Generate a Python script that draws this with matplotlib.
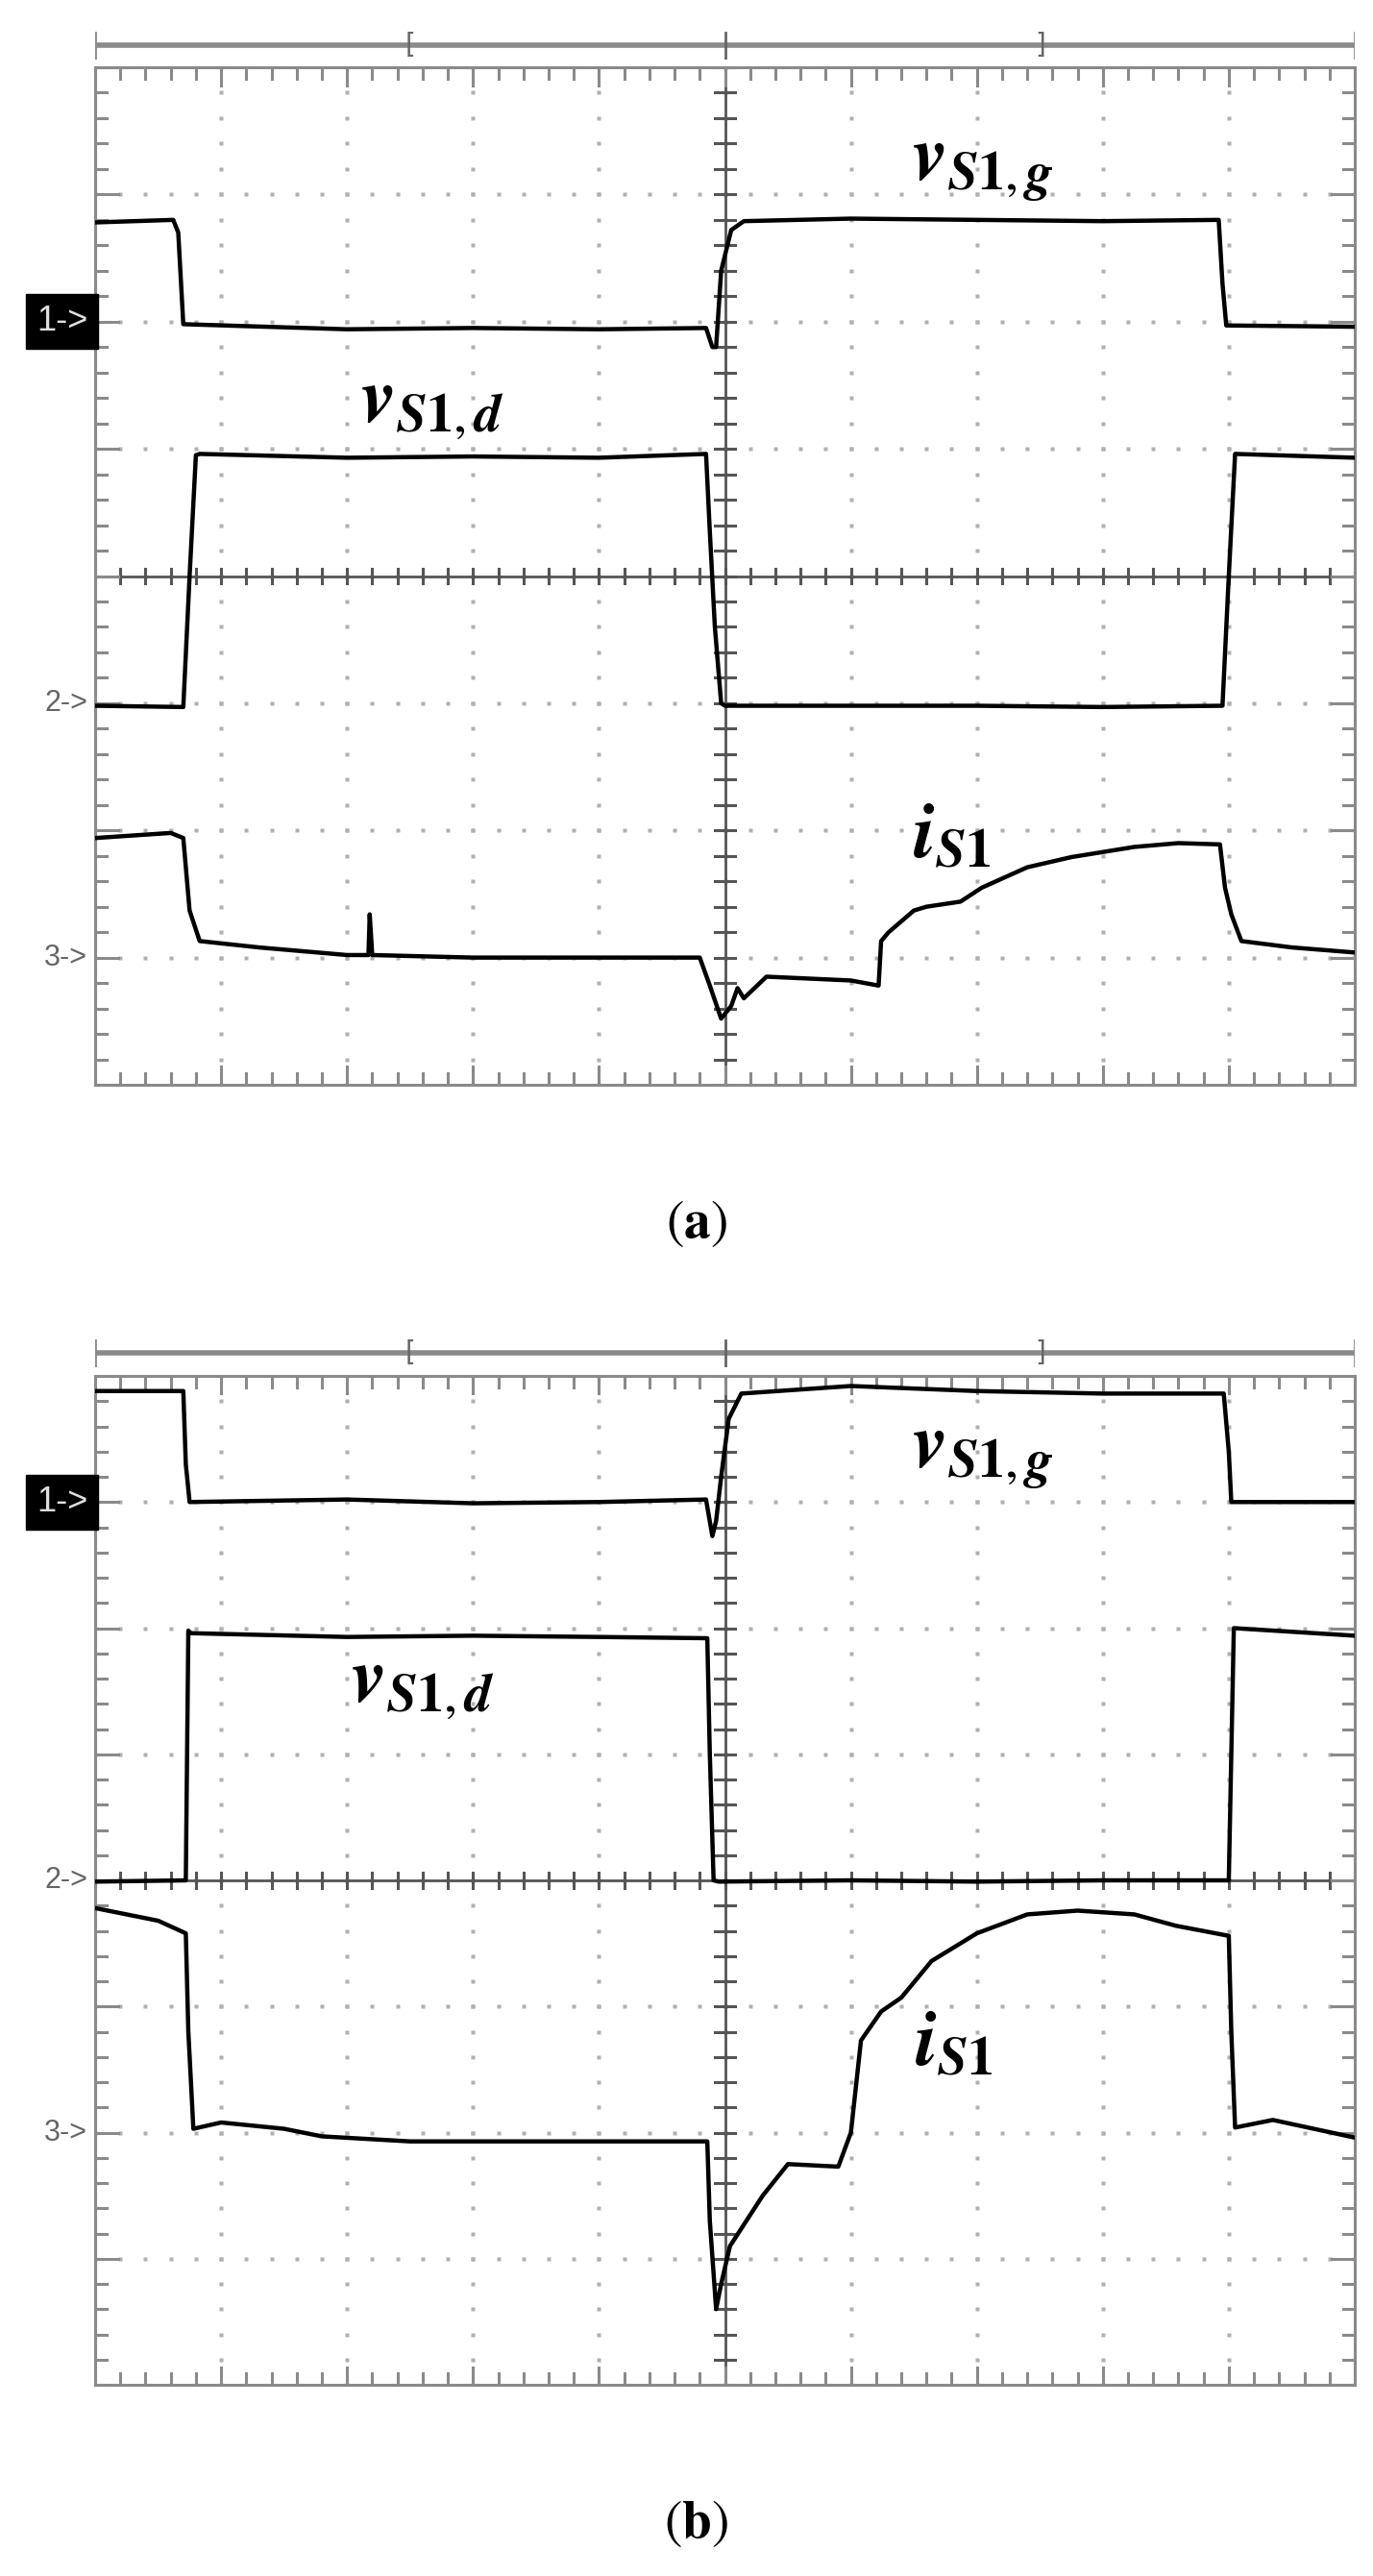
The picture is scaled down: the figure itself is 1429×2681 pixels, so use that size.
import numpy as np
import matplotlib
matplotlib.use("Agg")
import matplotlib.pyplot as plt

plt.rcParams["mathtext.fontset"] = "stix"

# -----------------------------
# traces, in scope divisions (x: 0..10, y: 0..8)
# -----------------------------
# panel (a)
a_gate_x = [0, 0.62, 0.66, 0.70, 2.0, 3.0, 4.0, 4.85, 4.90, 4.93, 4.97, 5.05, 5.15, 6.0, 7.0, 8.0, 8.92, 8.95, 8.98, 10]
a_gate_y = [6.78, 6.80, 6.70, 5.98, 5.94, 5.95, 5.94, 5.95, 5.80, 5.80, 6.40, 6.72, 6.79, 6.81, 6.80, 6.79, 6.80, 6.30, 5.97, 5.96]
a_drain_x = [0, 0.70, 0.75, 0.80, 0.83, 2.0, 3.0, 4.0, 4.85, 4.88, 4.92, 4.97, 5.0, 6.0, 7.0, 8.0, 8.95, 9.0, 9.05, 10]
a_drain_y = [2.98, 2.97, 4.0, 4.95, 4.96, 4.93, 4.94, 4.93, 4.96, 4.35, 3.60, 3.0, 2.98, 2.98, 2.98, 2.97, 2.98, 4.0, 4.96, 4.93]
a_curr_x = [0, 0.60, 0.70, 0.75, 0.83, 1.3, 2.0, 2.17, 2.18, 2.20, 3.0, 4.0, 4.80, 4.88, 4.97, 5.05, 5.10, 5.15, 5.33, 6.0, 6.22, 6.24,
            6.30, 6.50, 6.60, 6.87, 7.04, 7.40, 7.75, 8.25, 8.60, 8.93, 8.97, 9.02, 9.10, 9.50, 10]
a_curr_y = [1.94, 1.98, 1.94, 1.37, 1.13, 1.08, 1.02, 1.02, 1.34, 1.02, 1.00, 1.00, 1.00, 0.78, 0.52, 0.62, 0.76, 0.68, 0.85, 0.82, 0.78, 1.13,
            1.20, 1.37, 1.40, 1.44, 1.55, 1.71, 1.79, 1.87, 1.90, 1.89, 1.55, 1.34, 1.13, 1.08, 1.04]

# panel (b)
b_gate_x = [0, 0.70, 0.72, 0.75, 2.0, 3.0, 4.0, 4.85, 4.90, 4.93, 4.97, 5.03, 5.13, 6.0, 7.0, 8.0, 8.96, 9.0, 9.02, 10]
b_gate_y = [7.88, 7.88, 7.30, 7.0, 7.02, 6.99, 7.0, 7.02, 6.73, 6.85, 7.20, 7.66, 7.86, 7.92, 7.88, 7.86, 7.86, 7.40, 7.0, 7.0]
b_drain_x = [0, 0.72, 0.74, 0.76, 2.0, 3.0, 4.0, 4.86, 4.88, 4.91, 4.95, 6.0, 7.0, 8.0, 9.0, 9.02, 9.04, 10]
b_drain_y = [3.99, 4.0, 5.98, 5.96, 5.93, 5.94, 5.93, 5.92, 5.0, 4.0, 3.99, 4.0, 3.99, 4.0, 4.0, 5.0, 6.0, 5.94]
b_curr_x = [0, 0.50, 0.72, 0.74, 0.78, 1.0, 1.5, 1.8, 2.5, 3.5, 4.86, 4.88, 4.93, 4.97, 5.04, 5.30, 5.50, 5.90, 6.0, 6.08, 6.24,
            6.40, 6.64, 7.0, 7.40, 7.80, 8.25, 8.58, 9.0, 9.02, 9.05, 9.35, 10]
b_curr_y = [3.78, 3.68, 3.58, 2.80, 2.03, 2.08, 2.03, 1.97, 1.93, 1.93, 1.93, 1.30, 0.60, 0.80, 1.10, 1.50, 1.75, 1.73, 2.00, 2.73, 2.96,
            3.07, 3.36, 3.58, 3.73, 3.76, 3.73, 3.64, 3.56, 2.80, 2.04, 2.10, 1.96]

a_markers = [("1->", 6, True), ("2->", 3, False), ("3->", 1, False)]
b_markers = [("1->", 7, True), ("2->", 4, False), ("3->", 2, False)]

LBL_D = r"$\boldsymbol{v}_{\boldsymbol{S}\mathbf{1},\boldsymbol{d}}$"
LBL_G = r"$\boldsymbol{v}_{\boldsymbol{S}\mathbf{1},\boldsymbol{g}}$"
LBL_I = r"$\boldsymbol{i}_{\boldsymbol{S}\mathbf{1}}$"
a_labels = [(LBL_D, 2.68, 5.34), (LBL_G, 7.05, 7.22), (LBL_I, 6.8, 1.95)]
b_labels = [(LBL_D, 2.6, 5.55), (LBL_G, 7.05, 7.38), (LBL_I, 6.82, 2.7)]

W, H = 1429, 2681
GRAY = "#8a8a8a"


def draw_scope(ax, traces, markers, labels):
    ax.set_xlim(0, 10)
    ax.set_ylim(0, 8)
    ax.set_xticks([])
    ax.set_yticks([])
    for s in ax.spines.values():
        s.set_color(GRAY)
        s.set_linewidth(2.2)

    # dotted graticule
    fine = np.arange(0, 10.01, 0.2)
    fine_y = np.arange(0, 8.01, 0.2)
    for gx in range(1, 10):
        ax.plot(np.full_like(fine_y, gx), fine_y, ls="none", marker="s", ms=2.2, color="#b0b0b0", mec="none")
    for gy in range(1, 8):
        ax.plot(fine, np.full_like(fine, gy), ls="none", marker="s", ms=2.2, color="#b0b0b0", mec="none")

    # centre cross
    ax.axhline(4, color="#555555", lw=2)
    ax.axvline(5, color="#555555", lw=2)

    # tick marks on frame and centre lines
    for t in fine:
        big = abs(t - round(t)) < 1e-6
        L = 0.14 if big else 0.09
        ax.plot([t, t], [8, 8 - L], color=GRAY, lw=2.2)
        ax.plot([t, t], [0, L], color=GRAY, lw=2.2)
        ax.plot([t, t], [4 - 0.06, 4 + 0.06], color="#555555", lw=2.2)
    for t in fine_y:
        big = abs(t - round(t)) < 1e-6
        L = 0.18 if big else 0.09
        ax.plot([0, L], [t, t], color=GRAY, lw=2.2)
        ax.plot([10, 10 - L], [t, t], color=GRAY, lw=2.2)
        ax.plot([5 - 0.08, 5 + 0.08], [t, t], color="#555555", lw=2.2)

    for xs, ys in traces:
        ax.plot(xs, ys, color="black", lw=3.2, solid_joinstyle="round", zorder=5)

    for txt, yv, boxed in markers:
        if boxed:
            ax.text(-0.06, yv, txt, ha="right", va="center", fontsize=26, color="#dddddd",
                    family="Liberation Sans",
                    bbox=dict(boxstyle="square,pad=0.3", fc="black", ec="black"), clip_on=False)
        else:
            ax.text(-0.06, yv, txt, ha="right", va="center", fontsize=22, color="#666666",
                    family="Liberation Sans", clip_on=False)

    for txt, lx, ly in labels:
        ax.text(lx, ly, txt, ha="center", va="center", fontsize=58, color="black", zorder=6)


def draw_topbar(fig, y_px):
    ax = fig.add_axes([99 / W, (H - y_px - 15) / H, 1311 / W, 30 / H])
    ax.set_xlim(0, 10)
    ax.set_ylim(-1, 1)
    ax.axis("off")
    ax.plot([0, 10], [0, 0], color=GRAY, lw=4)
    ax.plot([0, 0], [-0.9, 0.9], color=GRAY, lw=2)
    ax.plot([10, 10], [-0.9, 0.9], color=GRAY, lw=2)
    ax.plot([5, 5], [-0.9, 0.9], color="#666666", lw=2)
    ax.text(2.5, 0, "[", ha="center", va="center", fontsize=20, color="#666666")
    ax.text(7.5, 0, "]", ha="center", va="center", fontsize=20, color="#666666")


fig = plt.figure(figsize=(W / 100, H / 100), dpi=100)

ax_a = fig.add_axes([99 / W, (H - 1129) / H, 1311 / W, 1059 / H])
draw_scope(ax_a, [(a_gate_x, a_gate_y), (a_drain_x, a_drain_y), (a_curr_x, a_curr_y)], a_markers, a_labels)
draw_topbar(fig, 47)

ax_b = fig.add_axes([99 / W, (H - 2482) / H, 1311 / W, 1050 / H])
draw_scope(ax_b, [(b_gate_x, b_gate_y), (b_drain_x, b_drain_y), (b_curr_x, b_curr_y)], b_markers, b_labels)
draw_topbar(fig, 1408)

fig.text(725 / W, 1 - 1273 / H, r"$(\mathbf{a})$", ha="center", va="center", fontsize=40)
fig.text(725 / W, 1 - 2626 / H, r"$(\mathbf{b})$", ha="center", va="center", fontsize=40)

fig.savefig("out.png", dpi=100, facecolor="white")
